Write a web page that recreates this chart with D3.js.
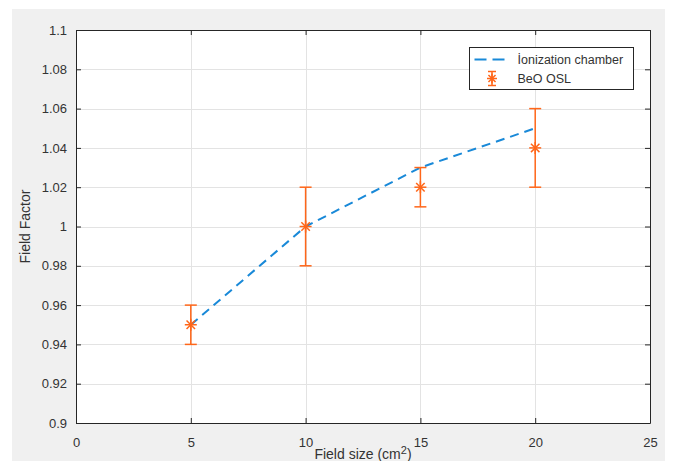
<!DOCTYPE html>
<html>
<head>
<meta charset="utf-8">
<script src="https://cdn.jsdelivr.net/npm/d3@7"></script>
<style>
  body { margin: 0; background: white; font-family: 'Liberation Sans', Arial, sans-serif; }
  .tick text { fill: #333; font-size: 13px; font-family: 'Liberation Sans', Arial, sans-serif; }
</style>
</head>
<body>
<svg id="chart" width="673" height="461"></svg>
<script>

// field size (cm^2)
var fieldSizes = [5, 10, 15, 20];
// ionization chamber reference
var chamberFactor = [0.95, 1.00, 1.03, 1.05];
// BeO OSL measurement with errors
var oslFactor = [0.95, 1.00, 1.02, 1.04];
var oslLow    = [0.94, 0.98, 1.01, 1.02];
var oslHigh   = [0.96, 1.02, 1.03, 1.06];

var xTicks = [0, 5, 10, 15, 20, 25];
var yTicks = [0.9, 0.92, 0.94, 0.96, 0.98, 1, 1.02, 1.04, 1.06, 1.08, 1.1];

var blue = '#1989d8';
var orange = '#ff6619';

var margin = {left: 76, top: 30, right: 650, bottom: 423};

var svg = d3.select('#chart');

// figure background
svg.append('rect')
  .attr('x', 12).attr('y', 9)
  .attr('width', 653).attr('height', 452)
  .attr('fill', '#f0f0f0');

var x = d3.scaleLinear().domain([0, 25]).range([margin.left, margin.right]);
var y = d3.scaleLinear().domain([0.9, 1.1]).range([margin.bottom, margin.top]);

svg.append('rect')
  .attr('x', margin.left).attr('y', margin.top)
  .attr('width', margin.right - margin.left)
  .attr('height', margin.bottom - margin.top)
  .attr('fill', 'white');

// grid
svg.append('g').selectAll('line').data(xTicks.slice(1, -1)).enter()
  .append('line')
  .attr('x1', function(d) { return Math.round(x(d)) + 0.5; })
  .attr('x2', function(d) { return Math.round(x(d)) + 0.5; })
  .attr('y1', margin.top).attr('y2', margin.bottom)
  .attr('stroke', '#e3e3e3');

svg.append('g').selectAll('line').data(yTicks.slice(1, -1)).enter()
  .append('line')
  .attr('y1', function(d) { return Math.round(y(d)) + 0.5; })
  .attr('y2', function(d) { return Math.round(y(d)) + 0.5; })
  .attr('x1', margin.left).attr('x2', margin.right)
  .attr('stroke', '#e3e3e3');

// axes (ticks inward, box on)
var xAxis = svg.append('g')
  .attr('transform', 'translate(0,' + margin.bottom + ')')
  .call(d3.axisBottom(x).tickValues(xTicks).tickSizeInner(-5).tickSizeOuter(0).tickPadding(15)
    .tickFormat(d3.format('d')));
var yAxis = svg.append('g')
  .attr('transform', 'translate(' + margin.left + ',0)')
  .call(d3.axisLeft(y).tickValues(yTicks).tickSizeInner(-5).tickSizeOuter(0).tickPadding(9)
    .tickFormat(function(d) { return String(+d.toFixed(2)); }));
var xTop = svg.append('g')
  .attr('transform', 'translate(0,' + margin.top + ')')
  .call(d3.axisTop(x).tickValues(xTicks).tickSizeInner(-5).tickSizeOuter(0).tickFormat(''));
var yRight = svg.append('g')
  .attr('transform', 'translate(' + margin.right + ',0)')
  .call(d3.axisRight(y).tickValues(yTicks).tickSizeInner(-5).tickSizeOuter(0).tickFormat(''));

[xAxis, yAxis, xTop, yRight].forEach(function(g) {
  g.select('.domain').attr('stroke', '#262626');
  g.selectAll('.tick line').attr('stroke', '#262626');
});

// ionization chamber dashed line
var line = d3.line()
  .x(function(d, i) { return x(fieldSizes[i]); })
  .y(function(d) { return y(d); });

svg.append('path')
  .datum(chamberFactor)
  .attr('d', line)
  .attr('fill', 'none')
  .attr('stroke', blue)
  .attr('stroke-width', 2)
  .attr('stroke-dasharray', '9,6');

// asterisk marker
function asterisk(g, cx, cy, r) {
  var angles = [0, 45, 90, 135];
  angles.forEach(function(a) {
    var rad = a * Math.PI / 180;
    g.append('line')
      .attr('x1', cx - r * Math.cos(rad)).attr('y1', cy - r * Math.sin(rad))
      .attr('x2', cx + r * Math.cos(rad)).attr('y2', cy + r * Math.sin(rad))
      .attr('stroke', orange).attr('stroke-width', 1.5);
  });
}

// error bars
var eb = svg.append('g');
fieldSizes.forEach(function(fs, i) {
  var cx = x(fs);
  eb.append('line')
    .attr('x1', cx).attr('x2', cx)
    .attr('y1', y(oslLow[i])).attr('y2', y(oslHigh[i]))
    .attr('stroke', orange).attr('stroke-width', 1.5);
  [oslLow[i], oslHigh[i]].forEach(function(v) {
    eb.append('line')
      .attr('x1', cx - 6).attr('x2', cx + 6)
      .attr('y1', y(v)).attr('y2', y(v))
      .attr('stroke', orange).attr('stroke-width', 1.5);
  });
  asterisk(eb, cx, y(oslFactor[i]), 6);
});

// axis labels
svg.append('text')
  .attr('transform', 'translate(30,' + ((margin.top + margin.bottom) / 2) + ') rotate(-90)')
  .attr('text-anchor', 'middle')
  .attr('fill', '#333')
  .style('font-size', '14px')
  .text('Field Factor');

var xl = svg.append('text')
  .attr('x', (margin.left + margin.right) / 2)
  .attr('y', 459)
  .attr('text-anchor', 'middle')
  .attr('fill', '#333')
  .style('font-size', '14px');
xl.append('tspan').text('Field size (cm');
xl.append('tspan').attr('dy', -5).style('font-size', '11px').text('2');
xl.append('tspan').attr('dy', 5).text(')');

// legend
var lg = svg.append('g').attr('transform', 'translate(469.5,47.5)');
lg.append('rect')
  .attr('width', 164).attr('height', 42)
  .attr('fill', 'white').attr('stroke', '#262626');
lg.append('line')
  .attr('x1', 5).attr('x2', 40).attr('y1', 12).attr('y2', 12)
  .attr('stroke', blue).attr('stroke-width', 2).attr('stroke-dasharray', '12,6');
lg.append('text')
  .attr('x', 48).attr('y', 16.5)
  .attr('fill', '#333').style('font-size', '12.5px')
  .text('İonization chamber');
var lm = lg.append('g');
lm.append('line').attr('x1', 22.5).attr('x2', 22.5).attr('y1', 24).attr('y2', 38)
  .attr('stroke', orange).attr('stroke-width', 1.5);
lm.append('line').attr('x1', 18.5).attr('x2', 26.5).attr('y1', 24).attr('y2', 24)
  .attr('stroke', orange).attr('stroke-width', 1.5);
lm.append('line').attr('x1', 18.5).attr('x2', 26.5).attr('y1', 38).attr('y2', 38)
  .attr('stroke', orange).attr('stroke-width', 1.5);
asterisk(lm, 22.5, 31, 5);
lg.append('text')
  .attr('x', 48).attr('y', 35.5)
  .attr('fill', '#333').style('font-size', '12.5px')
  .text('BeO OSL');

</script>
</body>
</html>
